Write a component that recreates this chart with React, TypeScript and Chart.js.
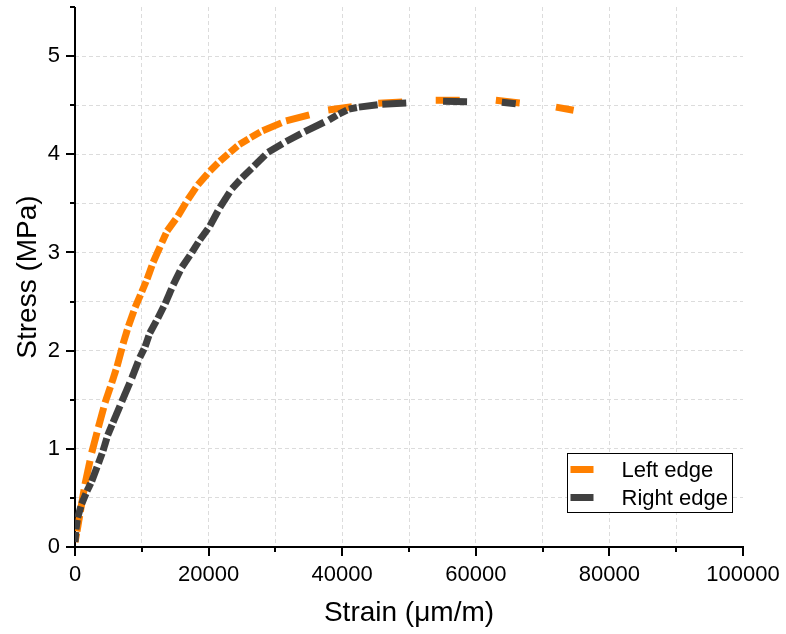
import { useEffect, useRef } from 'react';
import { Chart, registerables } from 'chart.js';

Chart.register(...registerables);

// ---- data ----
const seriesNames = ['Left edge', 'Right edge'];
const seriesColors = ['#FF8000', '#404040'];

const leftStrain = [
  0, 300, 800, 1500, 2500, 3500, 4500, 5500, 6300, 7200, 8000, 9000, 10000, 10800, 11700,
  13000, 13800, 15400, 16900, 18400, 20200, 21700, 23200, 24600, 26300, 28100, 31600, 37900,
  45400, 54000, 63000, 72000, 75300,
];
const leftStress = [
  0.05, 0.16, 0.36, 0.64, 0.96, 1.22, 1.47, 1.67, 1.84, 2.07, 2.25, 2.44, 2.6, 2.73, 2.9,
  3.1, 3.22, 3.37, 3.54, 3.69, 3.83, 3.93, 4.02, 4.1, 4.17, 4.24, 4.34, 4.45,
  4.52, 4.55, 4.55, 4.48, 4.44,
];

const rightStrain = [
  0, 150, 400, 1000, 1800, 2500, 3500, 4200, 4900, 5700, 7000, 8500, 9700, 10500, 11200,
  12400, 13500, 14700, 16000, 17500, 18700, 20200, 21700, 23500, 25000, 26800, 28900, 31600,
  34400, 38000, 39500, 41000, 42500, 46000, 55100, 63900, 66500,
];
const rightStress = [
  0.05, 0.18, 0.3, 0.44, 0.57, 0.67, 0.85, 0.98, 1.14, 1.27, 1.48, 1.72, 1.93, 2.04, 2.18,
  2.33, 2.48, 2.67, 2.85, 3.0, 3.13, 3.27, 3.46, 3.65, 3.76, 3.88, 4.02, 4.13,
  4.23, 4.35, 4.41, 4.46, 4.48, 4.51, 4.54, 4.53, 4.51,
];

const xMin = 0;
const xMax = 100000;
const xGridStep = 10000;
const xLabelStep = 20000;
const yMin = 0;
const yMax = 5.5;
const yGridStep = 0.5;
const yLabelStep = 1;

const xTitle = 'Strain (μm/m)';
const yTitle = 'Stress (MPa)';

const FONT = '"Liberation Sans", Arial, Helvetica, sans-serif';
const DASH = 24;
const DASH_RATIO = 0.8;

function toPoints(xs: number[], ys: number[]) {
  return xs.map((v, i) => ({ x: v, y: ys[i] }));
}

export default function App() {
  const ref = useRef<HTMLCanvasElement>(null);

  useEffect(() => {
    const canvas = ref.current;
    if (!canvas) return;

    const isMultiple = (v: number, step: number) => Math.abs(v / step - Math.round(v / step)) < 1e-6;

    const axesPlugin = {
      id: 'originAxes',
      beforeDatasetsDraw(chart: any) {
        const { ctx, chartArea: ca, scales } = chart;
        const xs = scales.x;
        const ys = scales.y;
        ctx.save();
        ctx.strokeStyle = '#000';
        ctx.lineWidth = 2;
        ctx.lineCap = 'butt';
        ctx.setLineDash([]);
        ctx.beginPath();
        ctx.moveTo(ca.left, ca.top);
        ctx.lineTo(ca.left, ca.bottom + 1);
        ctx.moveTo(ca.left - 1, ca.bottom);
        ctx.lineTo(ca.right + 1, ca.bottom);
        xs.ticks.forEach((t: any) => {
          const px = Math.round(xs.getPixelForValue(t.value));
          const major = isMultiple(t.value, xLabelStep);
          ctx.moveTo(px, ca.bottom);
          ctx.lineTo(px, ca.bottom + (major ? 9 : 5));
        });
        ys.ticks.forEach((t: any) => {
          const py = Math.round(ys.getPixelForValue(t.value));
          const major = isMultiple(t.value, yLabelStep);
          ctx.moveTo(ca.left, py);
          ctx.lineTo(ca.left - (major ? 9 : 5), py);
        });
        ctx.stroke();
        ctx.restore();
      },
      afterDraw(chart: any) {
        const { ctx, chartArea: ca } = chart;
        const w = ca.right - ca.left;
        const h = ca.bottom - ca.top;
        const bx = Math.round(ca.left + 0.7365 * w) + 0.5;
        const by = Math.round(ca.top + 0.826 * h) + 0.5;
        const bw = 165;
        const bh = 59;
        ctx.save();
        ctx.fillStyle = '#fff';
        ctx.fillRect(bx, by, bw, bh);
        ctx.strokeStyle = '#000';
        ctx.lineWidth = 1;
        ctx.strokeRect(bx, by, bw, bh);
        ctx.font = `22px ${FONT}`;
        ctx.textBaseline = 'middle';
        ctx.textAlign = 'left';
        seriesNames.forEach((name, i) => {
          const cy = by + 16 + i * 28;
          ctx.fillStyle = seriesColors[i];
          ctx.fillRect(bx + 3, cy - 3.5, 23, 7);
          ctx.fillStyle = '#000';
          ctx.fillText(name, bx + 54, cy + 1);
        });
        ctx.restore();
      },
    };

    // Each line segment starts its own dash (as the source plot does): the dash
    // length depends on the on-screen length of the segment.
    const segLen = (c: any) => {
      const ch = c.chart;
      const ds = ch.data.datasets[c.datasetIndex].data as any[];
      const a = ds[c.p0DataIndex];
      const b = ds[c.p1DataIndex];
      const xs = ch.scales.x;
      const ys = ch.scales.y;
      if (!a || !b || !xs || !ys) return 0;
      const dx = xs.getPixelForValue(b.x) - xs.getPixelForValue(a.x);
      const dy = ys.getPixelForValue(b.y) - ys.getPixelForValue(a.y);
      const l = Math.hypot(dx, dy);
      return isFinite(l) ? l : 0;
    };

    const segmentStyle = {
      borderDash: (c: any) => {
        const len = segLen(c);
        const d = len >= DASH / DASH_RATIO ? DASH : Math.max(1, len * DASH_RATIO);
        return [d, 400];
      },
      borderDashOffset: (c: any) => (c.p0DataIndex % 2 ? 0.001 : 0),
    };

    const makeDataset = (i: number, xs: number[], ys: number[], order: number) => ({
      label: seriesNames[i],
      data: toPoints(xs, ys),
      borderColor: seriesColors[i],
      backgroundColor: seriesColors[i],
      borderWidth: 7,
      borderCapStyle: 'butt',
      borderJoinStyle: 'round',
      pointRadius: 0,
      tension: 0,
      fill: false,
      order,
      segment: segmentStyle,
    });

    const chart = new Chart(canvas, {
      type: 'line',
      data: {
        datasets: [
          makeDataset(0, leftStrain, leftStress, 1),
          makeDataset(1, rightStrain, rightStress, 0),
        ],
      } as any,
      options: {
        responsive: false,
        animation: false,
        events: [],
        layout: { padding: { left: 0, top: 7, right: 43, bottom: 0 } },
        plugins: {
          legend: { display: false },
          tooltip: { enabled: false },
          title: { display: false },
        },
        scales: {
          x: {
            type: 'linear',
            min: xMin,
            max: xMax,
            afterFit: (s: any) => {
              s.height = 87;
              s.paddingLeft = 0;
              s.paddingRight = 0;
            },
            ticks: {
              stepSize: xGridStep,
              autoSkip: false,
              maxRotation: 0,
              padding: 15,
              color: '#000',
              font: { family: FONT, size: 22 },
              callback: (v: any) => (isMultiple(Number(v), xLabelStep) ? String(v) : ''),
            },
            grid: {
              drawTicks: false,
              lineWidth: 1,
              color: (c: any) => (c.tick && (c.tick.value === xMax || c.tick.value === xMin) ? 'rgba(0,0,0,0)' : '#dcdcdc'),
            },
            border: { display: false, dash: [4, 3] },
            title: {
              display: true,
              text: xTitle,
              color: '#000',
              font: { family: FONT, size: 28 },
              padding: { top: 0, bottom: 4 },
            },
          },
          y: {
            type: 'linear',
            min: yMin,
            max: yMax,
            afterFit: (s: any) => {
              s.width = 75;
              s.paddingTop = 0;
              s.paddingBottom = 0;
            },
            ticks: {
              stepSize: yGridStep,
              autoSkip: false,
              padding: 15,
              color: '#000',
              font: { family: FONT, size: 22 },
              callback: (v: any) => (isMultiple(Number(v), yLabelStep) ? String(v) : ''),
            },
            grid: {
              drawTicks: false,
              lineWidth: 1,
              color: (c: any) => (c.tick && (c.tick.value === yMax || c.tick.value === yMin) ? 'rgba(0,0,0,0)' : '#dcdcdc'),
            },
            border: { display: false, dash: [4, 3] },
            title: {
              display: true,
              text: yTitle,
              color: '#000',
              font: { family: FONT, size: 28 },
              padding: { top: 11, bottom: 0 },
            },
          },
        },
      } as any,
      plugins: [axesPlugin],
    });

    return () => chart.destroy();
  }, []);

  return (
    <div style={{ position: 'fixed', left: 0, top: 0, width: 786, height: 634, background: '#fff' }}>
      <canvas ref={ref} width={786} height={634} style={{ display: 'block', width: 786, height: 634 }} />
    </div>
  );
}
